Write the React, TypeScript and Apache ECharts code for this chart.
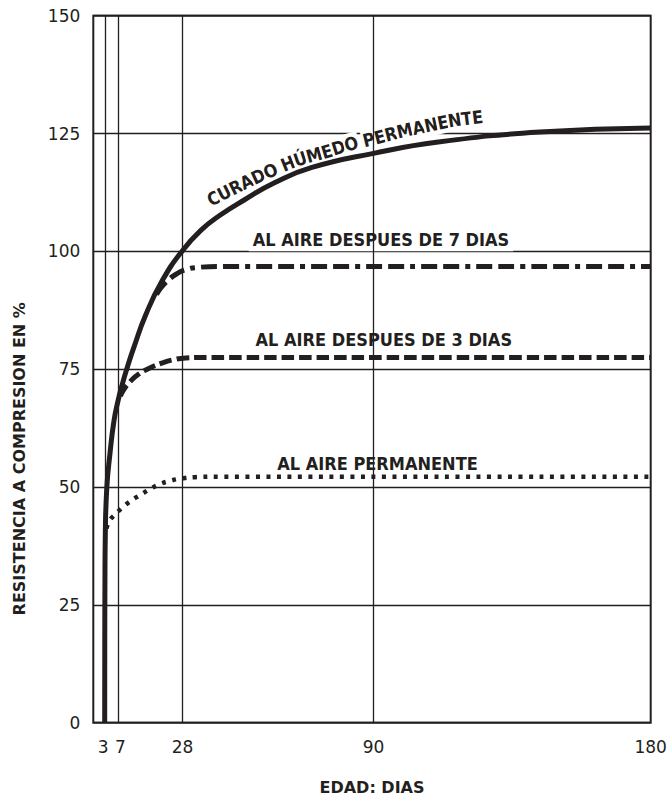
import React, { useEffect, useRef } from 'react';
import * as echarts from 'echarts';

const INK = '#231f20';
const TICK_FONT = '"DejaVu Sans", sans-serif';
const LABEL_FONT = '"DejaVu Sans Condensed", "DejaVu Sans", sans-serif';

// Axis ticks
const xTickDays = [3, 7, 28, 90, 180];
const xGridDays = [3, 7, 28, 90];
const yMin = 0;
const yMax = 150;
const yStep = 25;

// Curado húmedo permanente (solid)
const curadoDias = [2.7, 2.72, 2.78, 2.9, 3.4, 4.4, 5.7, 7.1, 8.5, 10, 12, 16, 21.4, 28, 34, 40, 48, 58, 70, 90, 111, 144, 180];
const curadoRes = [0, 15, 30, 40, 50, 57, 64, 68.5, 72, 75.3, 79.3, 86.5, 93.8, 100.2, 104.5, 107.6, 110.9, 114.6, 117.8, 120.8, 123.2, 125.3, 126.2];

// Al aire después de 7 días (dash-dot)
const aire7Dias = [19.5, 21, 23.5, 26, 29, 33, 40, 180];
const aire7Res = [90.8, 92.3, 94, 95.2, 96.1, 96.6, 96.8, 96.8];

// Al aire después de 3 días (dashed)
const aire3Dias = [7.8, 9, 10.9, 13, 16.5, 21.7, 25, 29, 35, 180];
const aire3Res = [69.3, 70.8, 72.3, 73.6, 75, 76.4, 77, 77.4, 77.5, 77.5];

// Al aire permanente (dotted)
const airePDias = [3.3, 4.2, 6, 8.7, 11.5, 14.5, 17.5, 20.6, 23.9, 27.5, 32, 40, 180];
const airePRes = [41.2, 42.8, 44.1, 45.8, 47.2, 48.4, 49.6, 50.6, 51.3, 51.8, 52.1, 52.2, 52.2];

const curvedLabel = 'CURADO HÚMEDO PERMANENTE';
const curvedPath: number[][] = [
  [208, 201], [226, 192], [250, 180], [272, 170], [299, 159], [325, 152],
  [348, 144.5], [377, 137.5], [402, 131], [430, 125], [457, 119.5], [483, 116.5],
];

const pairs = (xs: number[], ys: number[]) => xs.map((x, i) => [x, ys[i]]);

function curvedText(text: string, pts: number[][], fontSize: number) {
  const canvas = document.createElement('canvas');
  const ctx = canvas.getContext('2d')!;
  ctx.font = `bold ${fontSize}px ${LABEL_FONT}`;
  const chars = Array.from(text);
  const widths = chars.map((c) => ctx.measureText(c).width);
  const cum = [0];
  for (let i = 1; i < pts.length; i++) {
    const dx = pts[i][0] - pts[i - 1][0];
    const dy = pts[i][1] - pts[i - 1][1];
    cum.push(cum[i - 1] + Math.sqrt(dx * dx + dy * dy));
  }
  const L = cum[cum.length - 1];
  const total = widths.reduce((a, b) => a + b, 0);
  const extra = (L - total) / (chars.length - 1);
  const pointAt = (s: number) => {
    const ss = Math.max(0, Math.min(L, s));
    let k = 0;
    while (k < cum.length - 2 && cum[k + 1] < ss) k++;
    const t = (ss - cum[k]) / (cum[k + 1] - cum[k]);
    return [
      pts[k][0] + t * (pts[k + 1][0] - pts[k][0]),
      pts[k][1] + t * (pts[k + 1][1] - pts[k][1]),
    ];
  };
  const els: any[] = [];
  let s = 0;
  chars.forEach((c, i) => {
    const sc = s + widths[i] / 2;
    s += widths[i] + extra;
    if (c === ' ') return;
    const p = pointAt(sc);
    const a = pointAt(sc - 12);
    const b = pointAt(sc + 12);
    const ang = Math.atan2(-(b[1] - a[1]), b[0] - a[0]);
    els.push({
      type: 'text',
      x: p[0],
      y: p[1],
      rotation: ang,
      z: 1,
      silent: true,
      style: {
        text: c,
        fill: INK,
        fontFamily: LABEL_FONT,
        fontWeight: 'bold',
        fontSize,
        align: 'center',
        verticalAlign: 'middle',
        backgroundColor: '#fff',
        padding: [3, 1, 1, 1],
      },
    });
  });
  return els;
}

function straightLabel(text: string, x: number, y: number) {
  return {
    type: 'text',
    x,
    y,
    z: 1,
    silent: true,
    style: {
      text,
      fill: INK,
      fontFamily: LABEL_FONT,
      fontWeight: 'bold',
      fontSize: 18,
      lineHeight: 16,
      align: 'center',
      verticalAlign: 'middle',
      backgroundColor: '#fff',
      padding: [7, 4, 1, 4],
    },
  };
}

function buildOption(): any {
  const lineBase = {
    type: 'line',
    symbol: 'none',
    showSymbol: false,
    silent: true,
    smooth: 0.5,
  };
  return {
    animation: false,
    backgroundColor: '#fff',
    grid: {
      left: 93.3,
      right: 16.3,
      top: 15.7,
      bottom: 75.3,
      show: true,
      borderColor: INK,
      borderWidth: 2,
      backgroundColor: 'transparent',
      outerBoundsMode: 'none',
    },
    xAxis: {
      type: 'value',
      min: -1,
      max: 180,
      axisLine: { show: false },
      axisTick: { show: false },
      splitLine: { show: false },
      axisLabel: {
        customValues: xTickDays,
        color: INK,
        fontFamily: TICK_FONT,
        fontSize: 17,
        margin: 16,
        formatter: (v: number) => (v === 3 ? '{l|3}' : v === 7 ? '{r|7}' : String(v)),
        rich: {
          l: { padding: [0, 5, 0, 0], fontSize: 17, fontFamily: TICK_FONT, color: INK },
          r: { padding: [0, 0, 0, 5], fontSize: 17, fontFamily: TICK_FONT, color: INK },
        },
      },
    },
    yAxis: {
      type: 'value',
      min: yMin,
      max: yMax,
      interval: yStep,
      axisLine: { show: false },
      axisTick: { show: false },
      splitLine: { show: true, lineStyle: { color: INK, width: 1.3 } },
      axisLabel: { color: INK, fontFamily: TICK_FONT, fontSize: 17, margin: 13 },
    },
    series: [
      {
        ...lineBase,
        name: 'grid',
        z: 0,
        data: pairs(curadoDias, curadoRes),
        lineStyle: { opacity: 0 },
        markLine: {
          silent: true,
          symbol: ['none', 'none'],
          label: { show: false },
          lineStyle: { color: INK, width: 1.3, type: 'solid' },
          data: xGridDays.map((d) => ({ xAxis: d })),
        },
      },
      {
        ...lineBase,
        name: 'AL AIRE PERMANENTE',
        z: 3,
        data: pairs(airePDias, airePRes),
        lineStyle: { color: INK, width: 4.5, type: [4, 6.5], cap: 'butt' },
      },
      {
        ...lineBase,
        name: 'AL AIRE DESPUES DE 3 DIAS',
        z: 3,
        data: pairs(aire3Dias, aire3Res),
        lineStyle: { color: INK, width: 5, type: [12.5, 5], cap: 'butt' },
      },
      {
        ...lineBase,
        name: 'AL AIRE DESPUES DE 7 DIAS',
        z: 3,
        data: pairs(aire7Dias, aire7Res),
        lineStyle: { color: INK, width: 5, type: [16, 6, 16, 6, 5, 6], cap: 'butt' },
      },
      {
        ...lineBase,
        name: 'CURADO HÚMEDO PERMANENTE',
        z: 4,
        data: pairs(curadoDias, curadoRes),
        lineStyle: { color: INK, width: 5, type: 'solid' },
      },
    ],
    graphic: [
      straightLabel('AL AIRE DESPUES DE 7 DIAS', 381, 239.3),
      straightLabel('AL AIRE DESPUES DE 3 DIAS', 383.8, 339.7),
      straightLabel('AL AIRE PERMANENTE', 377.5, 463),
      ...curvedText(curvedLabel, curvedPath, 18),
      {
        type: 'text',
        x: 19.7,
        y: 458.8,
        rotation: Math.PI / 2,
        silent: true,
        z: 1,
        style: {
          text: 'RESISTENCIA A COMPRESION EN %',
          fill: INK,
          fontFamily: TICK_FONT,
          fontWeight: 'bold',
          fontSize: 16,
          align: 'center',
          verticalAlign: 'middle',
        },
      },
      {
        type: 'text',
        x: 372,
        y: 787,
        silent: true,
        z: 1,
        style: {
          text: 'EDAD: DIAS',
          fill: INK,
          fontFamily: TICK_FONT,
          fontWeight: 'bold',
          fontSize: 16,
          align: 'center',
          verticalAlign: 'middle',
        },
      },
    ],
  };
}

export default function App() {
  const ref = useRef<HTMLDivElement>(null);
  useEffect(() => {
    const chart = echarts.init(ref.current!, undefined, { renderer: 'svg' });
    chart.setOption(buildOption());
    return () => chart.dispose();
  }, []);
  return (
    <div
      ref={ref}
      style={{ position: 'fixed', left: 0, top: 0, width: 667, height: 798, background: '#fff' }}
    />
  );
}
